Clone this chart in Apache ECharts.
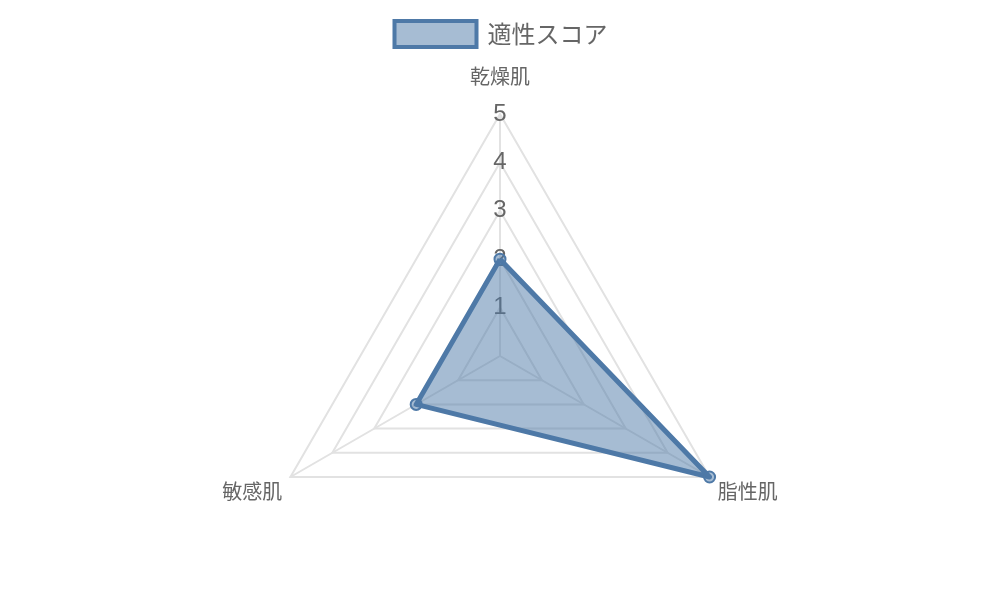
<!DOCTYPE html>
<html><head><meta charset="utf-8">
<script src="https://cdn.jsdelivr.net/npm/echarts@6/dist/echarts.min.js"></script>
<style>html,body{margin:0;padding:0;background:#fff}#c{width:1000px;height:600px}</style>
</head><body><div id="c"></div>
<script>
// ECharts places radar indicators counter-clockwise, so order: top, bottom-left, bottom-right
const indicators = ['乾燥肌', '敏感肌', '脂性肌'];
const seriesName = '適性スコア';
const values = [2, 2, 5];
const maxValue = 5;

const namePads = [
  null,
  { padding: [12, -16, -6, 0] },
  { padding: [12, 0, -6, -16] }
];

const chart = echarts.init(document.getElementById('c'));
chart.setOption({
  animation: false,
  legend: {
    top: 14,
    left: 'center',
    itemWidth: 82,
    itemHeight: 26,
    itemGap: 10,
    textStyle: { fontSize: 24, color: '#666', fontFamily: 'Noto Sans CJK JP', padding: [0, 0, 0, 6] },
    data: [{ name: seriesName, icon: 'rect', itemStyle: { color: 'rgba(78,121,167,0.5)', borderColor: '#4e79a7', borderWidth: 4, opacity: 1 } }]
  },
  radar: {
    center: ['50%', 356],
    radius: 242,
    startAngle: 90,
    splitNumber: 5,
    shape: 'polygon',
    indicator: indicators.map((n, i) => {
      const o = { name: n, max: maxValue, min: 0 };
      if (namePads[i]) o.nameTextStyle = namePads[i];
      if (i === 0) o.axisLabel = { show: true, showMinLabel: false, margin: 0, align: 'center', verticalAlign: 'middle', fontSize: 24, color: '#666', fontFamily: 'Liberation Sans', padding: [3, 0, 0, 0] };
      return o;
    }),
    axisName: { color: '#666', fontSize: 20, fontFamily: 'Noto Sans CJK JP' },
    nameGap: 28,
    splitArea: { show: false },
    splitLine: { lineStyle: { color: '#e2e2e2', width: 2 } },
    axisLine: { lineStyle: { color: '#e2e2e2', width: 2 } },
    axisLabel: { show: false },
    axisTick: { show: false }
  },
  series: [{
    type: 'radar',
    name: seriesName,
    symbol: 'circle',
    symbolSize: 11,
    lineStyle: { color: '#4e79a7', width: 5 },
    itemStyle: { color: 'rgba(78,121,167,0.5)', borderColor: '#4e79a7', borderWidth: 2 },
    areaStyle: { color: 'rgba(78,121,167,0.5)', opacity: 1 },
    data: [{ name: seriesName, value: values }]
  }]
});
</script></body></html>
